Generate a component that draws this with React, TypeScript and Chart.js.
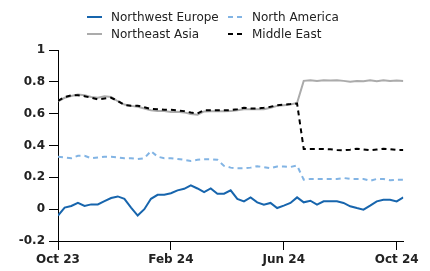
import React, { useEffect, useRef } from "react";
import { Chart, registerables } from "chart.js";

Chart.register(...registerables);

const xTickIndex = [0, 17, 34, 51];
const xTickLabels = ["Oct 23", "Feb 24", "Jun 24", "Oct 24"];
const yTicks = [-0.2, 0, 0.2, 0.4, 0.6, 0.8, 1];

const northwestEurope = [
  -0.04, 0.01, 0.02, 0.04, 0.02, 0.03, 0.03, 0.05, 0.07, 0.08, 0.065, 0.01, -0.04, 0.0, 0.065, 0.09, 0.09, 0.1,
  0.118, 0.128, 0.15, 0.13, 0.107, 0.13, 0.097, 0.097, 0.118, 0.064, 0.049, 0.074, 0.043, 0.028, 0.039, 0.007,
  0.022, 0.039, 0.074, 0.043, 0.053, 0.028, 0.049, 0.049, 0.049, 0.039, 0.018, 0.007, -0.003, 0.022, 0.049,
  0.059, 0.059, 0.049, 0.074,
];
const northAmerica = [
  0.33, 0.325, 0.32, 0.335, 0.335, 0.32, 0.325, 0.33, 0.33, 0.325, 0.32, 0.32, 0.315, 0.32, 0.365, 0.33, 0.32,
  0.32, 0.315, 0.31, 0.303, 0.31, 0.314, 0.314, 0.31, 0.272, 0.261, 0.257, 0.257, 0.261, 0.27, 0.264, 0.257,
  0.268, 0.268, 0.265, 0.274, 0.185, 0.19, 0.19, 0.19, 0.19, 0.19, 0.196, 0.19, 0.19, 0.19, 0.178, 0.19, 0.19,
  0.182, 0.185, 0.185,
];
const northeastAsia = [
  0.678, 0.7, 0.711, 0.72, 0.716, 0.705, 0.7, 0.709, 0.705, 0.678, 0.657, 0.649, 0.643, 0.632, 0.622, 0.616,
  0.616, 0.611, 0.612, 0.608, 0.598, 0.594, 0.614, 0.615, 0.615, 0.615, 0.616, 0.622, 0.627, 0.627, 0.628,
  0.628, 0.637, 0.649, 0.653, 0.657, 0.667, 0.806, 0.81, 0.805, 0.81, 0.809, 0.81, 0.806, 0.801, 0.805, 0.803,
  0.81, 0.803, 0.81, 0.805, 0.808, 0.805,
];
const middleEast = [
  0.68, 0.705, 0.715, 0.715, 0.71, 0.7, 0.69, 0.695, 0.7, 0.68, 0.655, 0.65, 0.65, 0.64, 0.63, 0.628, 0.625,
  0.625, 0.62, 0.616, 0.607, 0.601, 0.622, 0.622, 0.622, 0.622, 0.622, 0.628, 0.637, 0.632, 0.632, 0.637,
  0.643, 0.653, 0.657, 0.66, 0.664, 0.378, 0.378, 0.378, 0.378, 0.376, 0.372, 0.37, 0.374, 0.38, 0.375, 0.37,
  0.375, 0.38, 0.377, 0.372, 0.372,
];

const seriesNames = ["Northwest Europe", "North America", "Northeast Asia", "Middle East"];
const seriesColors = ["#1765ad", "#82b4e4", "#ababab", "#000000"];
const seriesDashes: number[][] = [[], [5, 4], [], [5, 4]];
const seriesValues = [northwestEurope, northAmerica, northeastAsia, middleEast];
const seriesOrder = [1, 1, 2, 0];

const FONT = "'DejaVu Sans', Verdana, sans-serif";

function LegendItem({ idx, left, top }: { idx: number; left: number; top: number }) {
  return (
    <div style={{ position: "absolute", left, top, height: 14, display: "flex", alignItems: "center" }}>
      <svg width={15} height={14} style={{ display: "block" }}>
        <line
          x1={0}
          y1={7}
          x2={15}
          y2={7}
          stroke={seriesColors[idx]}
          strokeWidth={2}
          strokeDasharray={seriesDashes[idx].length ? seriesDashes[idx].join(",") : undefined}
        />
      </svg>
      <span style={{ marginLeft: 9, fontFamily: FONT, fontSize: 12, lineHeight: "14px", color: "#222", whiteSpace: "nowrap" }}>
        {seriesNames[idx]}
      </span>
    </div>
  );
}

export default function App() {
  const canvasRef = useRef<HTMLCanvasElement | null>(null);

  useEffect(() => {
    if (!canvasRef.current) return;
    const chart = new Chart(canvasRef.current, {
      type: "line",
      data: {
        datasets: seriesValues.map((vals, i) => ({
          label: seriesNames[i],
          data: vals.map((v, j) => ({ x: j, y: v })),
          borderColor: seriesColors[i],
          backgroundColor: seriesColors[i],
          borderWidth: 2,
          borderDash: seriesDashes[i],
          pointRadius: 0,
          tension: 0,
          fill: false,
          order: seriesOrder[i],
        })),
      },
      options: {
        animation: false,
        responsive: false,
        maintainAspectRatio: false,
        layout: { padding: { top: 42, right: 18, bottom: 0, left: 0 } },
        plugins: { legend: { display: false }, tooltip: { enabled: false } },
        scales: {
          x: {
            type: "linear",
            min: 0,
            max: 52,
            afterBuildTicks: (scale: any) => {
              scale.ticks = xTickIndex.map((v) => ({ value: v }));
            },
            afterFit: (scale: any) => {
              scale.height = 30;
            },
            ticks: {
              autoSkip: false,
              maxRotation: 0,
              padding: 3,
              color: "#222",
              font: { family: FONT, size: 12, weight: "bold" },
              callback: (v: any) => {
                const k = xTickIndex.indexOf(Number(v));
                return k >= 0 ? xTickLabels[k] : "";
              },
            },
            grid: { display: true, drawOnChartArea: false, drawTicks: true, tickLength: 9, color: "#000" },
            border: { display: true, color: "#000", width: 1 },
          },
          y: {
            min: -0.2,
            max: 1,
            afterBuildTicks: (scale: any) => {
              scale.ticks = yTicks.map((v) => ({ value: v }));
            },
            afterFit: (scale: any) => {
              scale.width = 50;
            },
            ticks: {
              padding: 4,
              color: "#222",
              font: { family: FONT, size: 12, weight: "bold" },
              callback: (v: any) => String(Number(Number(v).toFixed(1)) || 0),
            },
            grid: { display: true, drawOnChartArea: false, drawTicks: true, tickLength: 9, color: "#000" },
            border: { display: true, color: "#000", width: 1 },
          },
        },
      },
    } as any);
    return () => chart.destroy();
  }, []);

  return (
    <div style={{ position: "relative", width: 414, height: 263 }}>
      <canvas ref={canvasRef} width={414} height={263} style={{ display: "block", width: 414, height: 263 }} />
      <LegendItem idx={0} left={79} top={2} />
      <LegendItem idx={1} left={220} top={2} />
      <LegendItem idx={2} left={79} top={19} />
      <LegendItem idx={3} left={220} top={19} />
    </div>
  );
}
